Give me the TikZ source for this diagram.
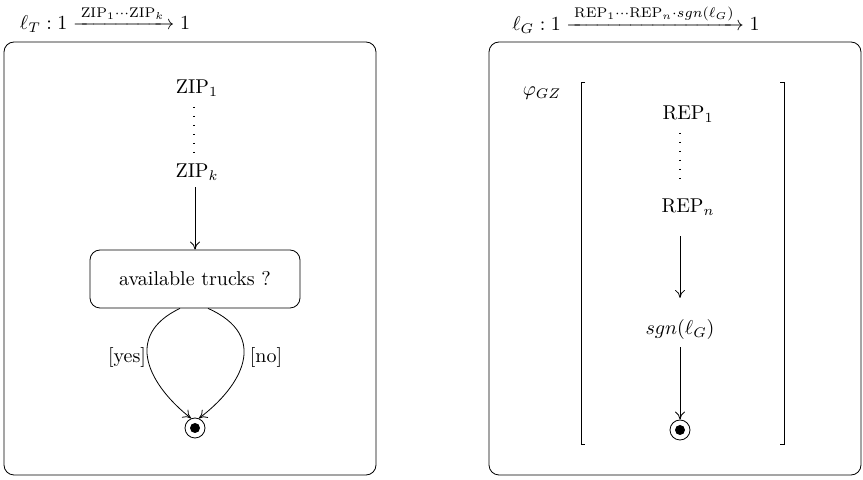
\documentclass[tikz,border=0pt]{standalone}
\usepackage{amsmath}
\usetikzlibrary{arrows.meta}
\tikzset{
  final/.style={draw,circle,inner sep=0pt,minimum size=10pt},
  decision/.style={draw,rounded corners=5pt,minimum width=105pt,minimum height=29pt},
  swimbox/.style={rounded corners=5pt},
  vdots/.style={dash pattern=on 0.5pt off 4pt,line width=0.6pt}
}
\begin{document}
\begin{tikzpicture}[x=0.5pt,y=-0.5pt,>={To[length=4pt,width=5pt]}]
        \useasboundingbox (0,0) rectangle (863,480);
        % left part
        \node (titleT) at (105,19) {$\ell_T : 1 \xrightarrow{\,\mathrm{ZIP}_1\cdots\mathrm{ZIP}_k\,} 1$};
        \draw[swimbox] (4,42) rectangle (376,475);
        \node (zip1) at (197,88) {ZIP$_1$};
        \node (zipk) at (197,172) {ZIP$_k$};
        \draw[vdots] (194,107) -- (194,153);
        \node[decision] (dec) at (195,279) {available trucks ?};
        \node[final] (finT) at (195,428) {};
        \fill (finT) circle (2.5pt);
        \draw[->] (zipk.south -| dec.north) -- (dec.north);
        \draw[->] ([xshift=-7.5pt]dec.south) .. controls (122,336) and (150,386) .. (finT.112);
        \draw[->] ([xshift=6.5pt]dec.south) .. controls (270,336) and (242,386) .. (finT.68);
        \node (yes) at (127,358) {[yes]};
        \node (no) at (266,358) {[no]};
        % right part
        \node (titleG) at (636,19) {$\ell_G : 1 \xrightarrow{\,\mathrm{REP}_1\cdots\mathrm{REP}_n\cdot sgn(\ell_G)\,} 1$};
        \draw[swimbox] (489,42) rectangle (861,475);
        \node (phi) at (542,93) {$\varphi_{GZ}$};
        \draw (585,82) -- (581,82) -- (581,444) -- (585,444);
        \draw (780,82) -- (784,82) -- (784,444) -- (780,444);
        \node (rep1) at (688,114) {REP$_1$};
        \node (repn) at (688,207) {REP$_n$};
        \draw[vdots] (680,133) -- (680,180);
        \node (sgn) at (680,330) {$sgn(\ell_G)$};
        \node[final] (finG) at (680,430) {};
        \fill (finG) circle (2.5pt);
        \draw[->] ([xshift=-4pt,yshift=-7pt]repn.south) -- ([yshift=7.5pt]sgn.north);
        \draw[->] (sgn) -- (finG);
\end{tikzpicture}
\end{document}
